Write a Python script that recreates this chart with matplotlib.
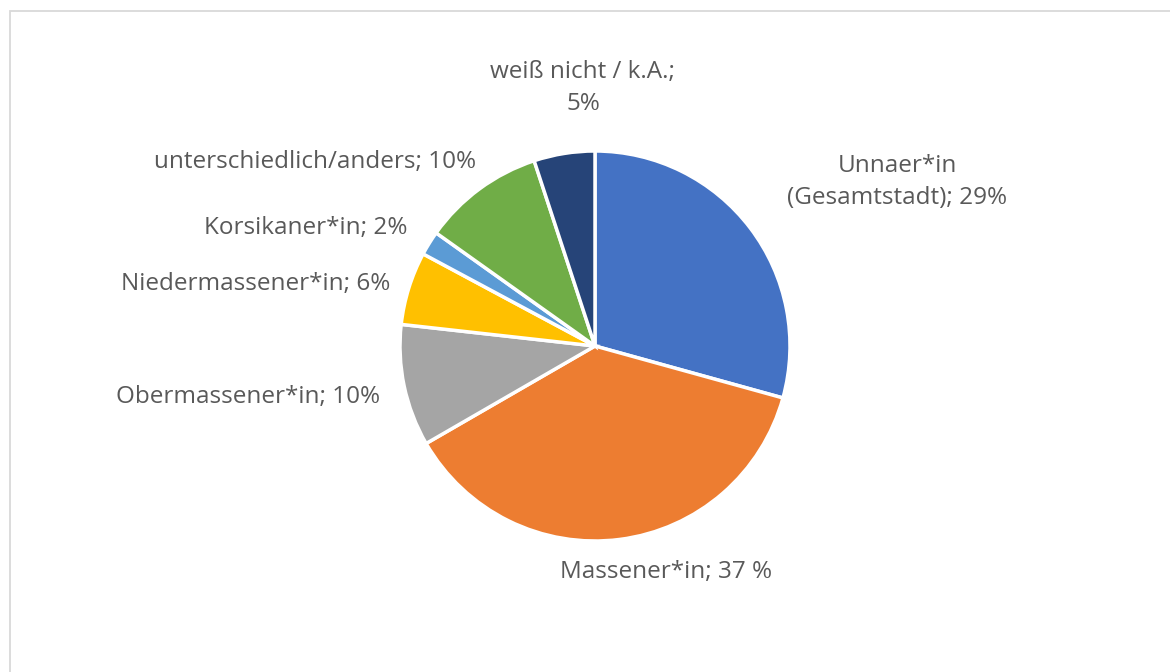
import matplotlib.pyplot as plt
from matplotlib.patches import Rectangle

# Anteile (Excel normalisiert auf die Summe)
kategorien = ['Unnaer*in (Gesamtstadt)', 'Massener*in', 'Obermassener*in',
              'Niedermassener*in', 'Korsikaner*in', 'unterschiedlich/anders',
              'weiß nicht / k.A.']
werte = [29, 37, 10, 6, 2, 10, 5]
beschriftungen = ['Unnaer*in\n(Gesamtstadt); 29%', 'Massener*in; 37 %',
                  'Obermassener*in; 10%', 'Niedermassener*in; 6%',
                  'Korsikaner*in; 2%', 'unterschiedlich/anders; 10%',
                  'weiß nicht / k.A.;\n5%']
farben = ['#4472C4', '#ED7D31', '#A5A5A5', '#FFC000', '#5B9BD5', '#70AD47', '#264478']

# Label-Positionen in Pixeln (x, y von oben), Ausrichtung
label_pos = [(897, 182, 'center'), (666, 572, 'center'), (380, 397, 'right'),
             (390, 284, 'right'), (408, 228, 'right'), (476, 162, 'right'),
             (583, 88, 'center')]

W, H = 1170, 672
fig = plt.figure(figsize=(W / 100, H / 100), dpi=100)
ax = fig.add_axes([0, 0, 1, 1])

ax.pie(werte, colors=farben, startangle=90, counterclock=False,
       center=(595, H - 346), radius=195,
       wedgeprops=dict(edgecolor='white', linewidth=2.5))
ax.set_xlim(0, W)
ax.set_ylim(0, H)
ax.set_aspect('equal')
ax.axis('off')

# Rahmen des Diagrammbereichs
ax.add_patch(Rectangle((10, -20), W + 20, H - 11 + 20, fill=False,
                       edgecolor='#D9D9D9', linewidth=1.3))

for txt, (x, y, ha) in zip(beschriftungen, label_pos):
    ax.text(x, H - y, txt, ha=ha, va='center', fontsize=17.5, color='#595959',
            family='Open Sans', linespacing=1.4)

fig.savefig('out.png', dpi=100)
